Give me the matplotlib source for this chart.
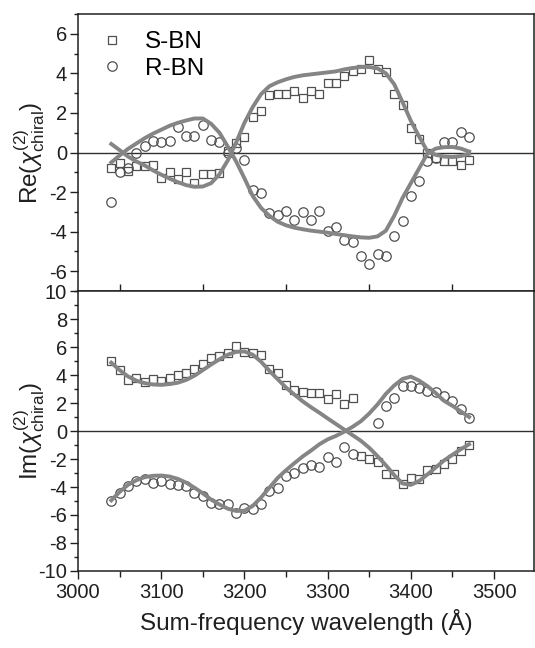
import numpy as np
import matplotlib
matplotlib.use('Agg')
import matplotlib.pyplot as plt
from matplotlib.ticker import MultipleLocator, FixedLocator, NullFormatter

nan = np.nan
wavelength = [3040, 3050, 3060, 3070, 3080, 3090, 3100, 3110, 3120, 3130,
              3140, 3150, 3160, 3170, 3180, 3190, 3200, 3210, 3220, 3230,
              3240, 3250, 3260, 3270, 3280, 3290, 3300, 3310, 3320, 3330,
              3340, 3350, 3360, 3370, 3380, 3390, 3400, 3410, 3420, 3430,
              3440, 3450, 3460, 3470]

# Real part
re_s_data = [-0.8, -0.55, -0.95, -0.7, -0.7, -0.65, -1.3, -1.0, -1.35, -1.0,
             -1.55, -1.1, -1.1, -1.05, 0.1, 0.5, 0.8, 1.8, 2.1, 2.9,
             2.95, 2.95, 3.1, 2.75, 3.1, 2.95, 3.5, 3.5, 3.85, 4.1,
             4.2, 4.65, 4.2, 4.05, 2.95, 2.4, 1.25, 0.7, -0.05, -0.3,
             -0.45, -0.45, -0.65, -0.4]
re_r_data = [-2.5, -1.0, -0.8, 0.0, 0.35, 0.57, 0.55, 0.6, 1.27, 0.85,
             0.85, 1.38, 0.65, 0.52, -0.05, 0.25, -0.38, -1.88, -2.03, -3.07,
             -3.15, -2.95, -3.43, -3.03, -3.43, -2.95, -3.98, -3.77, -4.4, -4.53,
             -5.23, -5.65, -5.15, -5.23, -4.23, -3.48, -2.2, -1.45, -0.42, -0.3,
             0.52, 0.52, 1.02, 0.77]
re_s_fit = [0.43, 0.12, -0.2, -0.45, -0.65, -0.9, -1.12, -1.32, -1.5, -1.65,
            -1.73, -1.72, -1.55, -1.1, -0.4, 0.5, 1.5, 2.3, 2.95, 3.35,
            3.55, 3.7, 3.82, 3.9, 3.95, 4.0, 4.05, 4.1, 4.2, 4.27,
            4.32, 4.32, 4.25, 4.0, 3.45, 2.55, 1.6, 0.8, 0.05, -0.12,
            -0.2, -0.23, -0.18, -0.07]
re_r_fit = [-0.5, -0.15, 0.18, 0.45, 0.72, 0.95, 1.15, 1.35, 1.5, 1.62,
            1.72, 1.72, 1.45, 1.0, 0.3, -0.45, -1.3, -2.2, -2.8, -3.2,
            -3.5, -3.68, -3.8, -3.88, -3.95, -4.0, -4.05, -4.12, -4.18, -4.24,
            -4.29, -4.31, -4.24, -3.95, -3.2, -2.3, -1.55, -0.8, -0.05, 0.2,
            0.27, 0.28, 0.2, 0.05]

# Imaginary part
im_s_data = [5.0, 4.33, 3.62, 3.81, 3.52, 3.69, 3.57, 3.81, 4.0, 4.17,
             4.4, 4.76, 5.19, 5.36, 5.6, 6.07, 5.67, 5.6, 5.43, 4.4,
             4.17, 3.29, 2.93, 2.81, 2.7, 2.7, 2.26, 2.62, 1.95, 2.38,
             -1.75, -2.02, -2.2, -3.1, -3.1, -3.78, -3.35, -3.4, -2.78, -2.74,
             -2.38, -2.02, -1.43, -0.98]
im_r_data = [-5.0, -4.4, -3.93, -3.57, -3.45, -3.69, -3.57, -3.76, -3.86, -3.93,
             -4.4, -4.64, -5.12, -5.24, -5.24, -5.83, -5.48, -5.6, -5.24, -4.29,
             -4.05, -3.21, -2.98, -2.62, -2.45, -2.55, -1.85, -2.23, -1.13, -1.65,
             nan, nan, 0.58, 1.81, 2.38, 3.21, 3.2, 3.05, 2.84, 2.77,
             2.47, 2.12, 1.55, 0.92]
im_s_fit = [4.88, 4.35, 3.9, 3.6, 3.42, 3.32, 3.3, 3.35, 3.45, 3.65,
            3.95, 4.35, 4.75, 5.12, 5.45, 5.65, 5.68, 5.45, 4.95, 4.3,
            3.7, 3.1, 2.6, 2.12, 1.7, 1.31, 0.9, 0.5, 0.1, -0.3,
            -0.7, -1.2, -1.8, -2.45, -3.15, -3.75, -3.85, -3.57, -3.1, -2.6,
            -2.1, -1.7, -1.3, -0.95]
im_r_fit = [-4.95, -4.35, -3.85, -3.52, -3.3, -3.2, -3.18, -3.25, -3.42, -3.69,
            -4.05, -4.45, -4.9, -5.25, -5.55, -5.71, -5.7, -5.35, -4.75, -4.05,
            -3.35, -2.8, -2.3, -1.82, -1.4, -0.95, -0.6, -0.35, -0.05, 0.3,
            0.7, 1.25, 1.9, 2.65, 3.25, 3.72, 3.88, 3.6, 3.2, 2.7,
            2.15, 1.8, 1.4, 1.0]

series_labels = ['S-BN', 'R-BN']
x_ticks = [3000, 3100, 3200, 3300, 3400, 3500]
top_yticks = [-6, -4, -2, 0, 2, 4, 6]
bot_yticks = [-10, -8, -6, -4, -2, 0, 2, 4, 6, 8, 10]

plt.rcParams['font.family'] = ['Liberation Sans', 'DejaVu Sans']
plt.rcParams['mathtext.fontset'] = 'custom'
plt.rcParams['mathtext.rm'] = 'Liberation Sans'
plt.rcParams['mathtext.it'] = 'Liberation Sans:italic'
plt.rcParams['axes.unicode_minus'] = False

W, H = 535, 648
fig = plt.figure(figsize=(W / 100, H / 100), dpi=100)
L, R = 78, 534
T, M, B = 14, 291, 571
ax1 = fig.add_axes([L / W, 1 - M / H, (R - L) / W, (M - T) / H])
ax2 = fig.add_axes([L / W, 1 - B / H, (R - L) / W, (B - M) / H])

fitc = '#858585'
mec = '#505050'
tick_fs = 14.5
lab_fs = 17.5

for ax, sd, rd, sf, rf in [(ax1, re_s_data, re_r_data, re_s_fit, re_r_fit),
                           (ax2, im_s_data, im_r_data, im_s_fit, im_r_fit)]:
    ax.axhline(0, color='#303030', lw=1.0, zorder=1)
    hs, = ax.plot(wavelength, sd, ls='none', marker='s', ms=6.2, mfc='none',
                  mec=mec, mew=0.9, zorder=2, label=series_labels[0])
    hr, = ax.plot(wavelength, rd, ls='none', marker='o', ms=6.8, mfc='none',
                  mec=mec, mew=0.9, zorder=2, label=series_labels[1])
    ax.plot(wavelength, sf, color=fitc, lw=2.8, zorder=3, solid_joinstyle='round')
    ax.plot(wavelength, rf, color=fitc, lw=2.8, zorder=3, solid_joinstyle='round')
    ax.set_xlim(3000, 3548)
    for sp in ax.spines.values():
        sp.set_linewidth(1.1)
        sp.set_color('#202020')
    ax.tick_params(axis='y', which='major', direction='out', length=6, width=1.0,
                   labelsize=tick_fs, pad=2, colors='#202020')
    ax.tick_params(axis='y', which='minor', direction='out', length=3, width=1.0,
                   colors='#202020')
    ax.yaxis.set_minor_locator(MultipleLocator(1))
    if ax is ax1:
        legend_handles = [hs, hr]

ax1.set_ylim(-7, 7)
ax1.set_yticks(top_yticks)
ax1.xaxis.set_major_locator(FixedLocator([3050, 3150, 3250, 3350, 3450]))
ax1.xaxis.set_major_formatter(NullFormatter())
ax1.tick_params(axis='x', which='major', direction='in', length=5, width=1.0,
                colors='#202020')

ax2.set_ylim(-10, 10)
ax2.set_yticks(bot_yticks)
ax2.set_xticks(x_ticks)
ax2.xaxis.set_minor_locator(MultipleLocator(50))
ax2.tick_params(axis='x', which='major', direction='out', length=6, width=1.0,
                labelsize=tick_fs, pad=3, colors='#202020')
ax2.tick_params(axis='x', which='minor', direction='out', length=4, width=1.0,
                colors='#202020')
ax2.set_xlabel('Sum-frequency wavelength (Å)', fontsize=lab_fs, color='#202020',
               labelpad=5)

ax1.set_ylabel(r'Re($\chi^{(2)}_{\mathrm{chiral}}$)', fontsize=lab_fs, color='#202020')
ax2.set_ylabel(r'Im($\chi^{(2)}_{\mathrm{chiral}}$)', fontsize=lab_fs, color='#202020')
ax1.yaxis.set_label_coords(-0.067, 0.5)
ax2.yaxis.set_label_coords(-0.067, 0.5)

ax1.legend(handles=legend_handles, loc='upper left', frameon=False,
           fontsize=lab_fs, bbox_to_anchor=(0.01, 1.0), handlelength=1.0,
           handletextpad=0.85, labelspacing=0.2, borderaxespad=0.3)

fig.savefig('out.png', dpi=100)
